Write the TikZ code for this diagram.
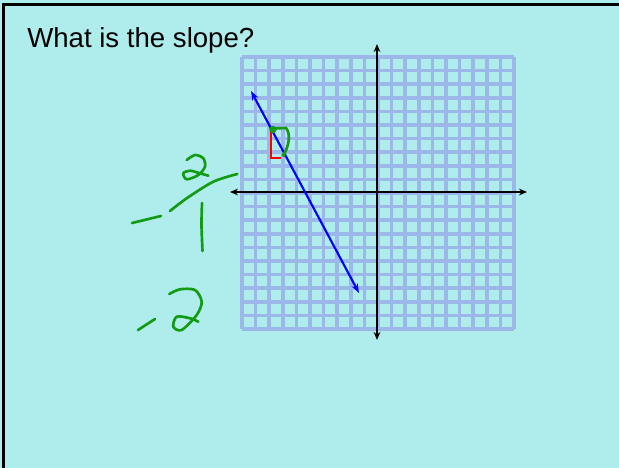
\documentclass[tikz,border=0pt]{standalone}
\usepackage{fontspec}
\setmainfont{Liberation Sans}
\usetikzlibrary{arrows.meta}
\definecolor{slidebg}{RGB}{175,236,236}
\definecolor{gridblue}{RGB}{155,184,232}
\definecolor{penGreen}{RGB}{20,155,20}
\tikzset{
  gridline/.style={gridblue,line width=2.6pt},
  axis/.style={black,line width=1.5pt,{Stealth[length=6pt,width=5pt]}-{Stealth[length=6pt,width=5pt]}},
  pen/.style={penGreen,line width=2pt,line cap=round,line join=round},
}
\begin{document}
\begin{tikzpicture}[x=0.75pt,y=-0.75pt]
\fill[slidebg] (0,0) rectangle (619,468);
\useasboundingbox (0,0) rectangle (619,468);
\draw[line width=2.5pt] (3.5,470) |- (621,4.5);
\node[anchor=base west,inner sep=0pt,font=\fontsize{20.7}{24}\selectfont] (title) at (27,47) {What is the slope?};
\foreach \i in {0,...,20}{
  \draw[gridline] (242+13.6*\i,57) -- (242+13.6*\i,329);
  \draw[gridline] (242,57+13.6*\i) -- (514,57+13.6*\i);
}
\draw[axis] (230,192) -- (527,192);
\draw[axis] (377,340) -- (377,44);
\draw[blue,line width=1.6pt,{Stealth[length=7pt,width=5pt]}-{Stealth[length=7pt,width=5pt]}] (251,91) -- (359,293);
\draw[red,line width=1.6pt] (270.7,131) -- (270.7,158) -- (280.7,158);
\draw[pen] (273,129.5) circle (2.3);
\draw[pen] (271,128.5) -- (286,128) .. controls (291,134) and (289,146) .. (283.5,155);
\fill[penGreen] (283.5,155) circle (2);
\draw[pen] plot[smooth] coordinates {(186.7,160) (195,155) (203.3,158.3) (205,166.7) (198.3,175) (186.7,179.3) (183.3,173.3) (190,170.7) (200,173.3) (208.3,175.7)};
\draw[pen] plot[smooth] coordinates {(170,211) (186.7,198.3) (213.3,181.7) (237.3,174)};
\draw[pen] (132,223) -- (161,216);
\draw[pen] plot[smooth] coordinates {(202,203) (201.5,225) (202.5,251)};
\draw[pen] (138,330) -- (155,319);
\draw[pen] plot[smooth] coordinates {(169.3,294) (180,289.3) (195,290) (201.7,301.7) (196.7,315) (181.7,330) (173.3,326.7) (176.7,316.7) (190,318.3) (198.3,321.7)};
\end{tikzpicture}
\end{document}
